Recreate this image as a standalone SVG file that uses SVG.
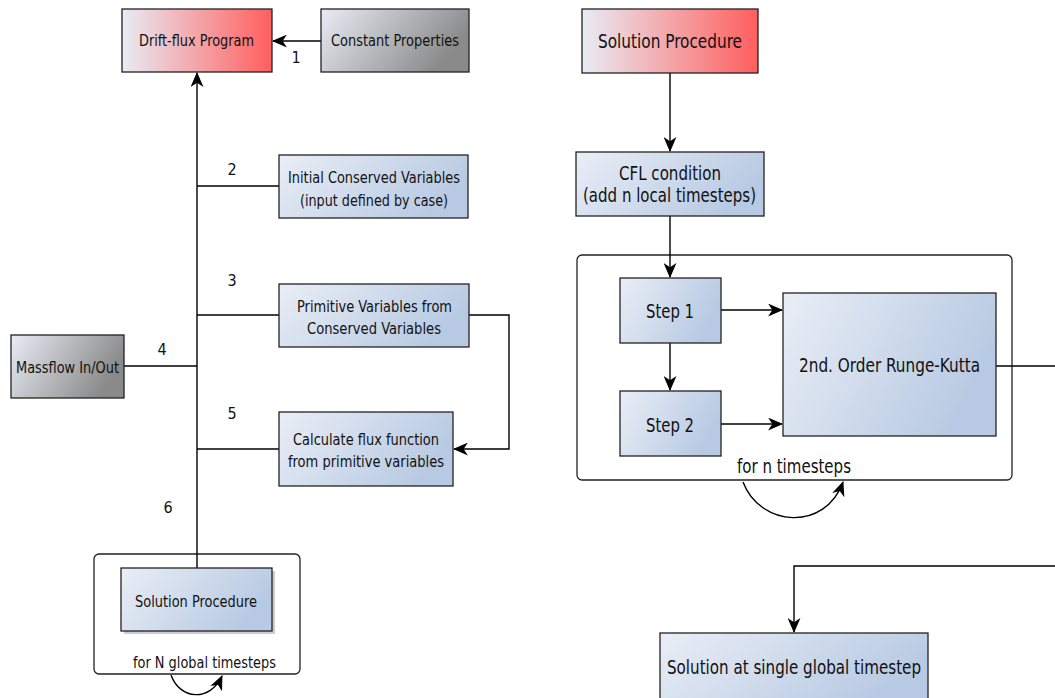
<svg xmlns="http://www.w3.org/2000/svg" width="1055" height="698" viewBox="0 0 1055 698">
<defs>
<linearGradient id="gBlue" x1="0" y1="0" x2="1" y2="0.35"><stop offset="0" stop-color="#eaeef6"/><stop offset="1" stop-color="#b8cae3"/></linearGradient>
<linearGradient id="gRed" x1="0" y1="0" x2="1" y2="0"><stop offset="0" stop-color="#e8ecf4"/><stop offset="1" stop-color="#ff5e5e"/></linearGradient>
<linearGradient id="gGray" x1="0" y1="0" x2="1" y2="0.35"><stop offset="0" stop-color="#e8ecf4"/><stop offset="1" stop-color="#8a8a8a"/></linearGradient>
<marker id="arr" viewBox="0 0 14 12" refX="13" refY="6" markerWidth="15" markerHeight="13" markerUnits="userSpaceOnUse" orient="auto"><path d="M0,0 L14,6 L0,12 L4,6 Z" fill="#000"/></marker>
</defs>
<style>
.box{stroke:#222;stroke-width:1.3}
.blue{fill:url(#gBlue)}
.red{fill:url(#gRed)}
.gray{fill:url(#gGray)}
.frame{fill:#fff;stroke:#222;stroke-width:1.3}
.shadow{fill:#999;opacity:0.5}
text{font-family:"DejaVu Sans Condensed","DejaVu Sans",sans-serif;font-stretch:condensed;font-size:16.5px;fill:#111;text-anchor:middle}
.big{font-size:19px}
.num{font-size:16px}
.conn{fill:none;stroke:#000;stroke-width:1.4}
</style>
<rect width="1055" height="698" fill="#fff"/>

<g id="frame-global"><rect class="frame" x="94" y="554" width="206" height="120" rx="5"/><text x="204.5" y="668" textLength="143" lengthAdjust="spacingAndGlyphs">for N global timesteps</text></g>
<g id="frame-local"><rect class="frame" x="577" y="255" width="435" height="225" rx="5"/><text class="big" x="794" y="473" textLength="114" lengthAdjust="spacingAndGlyphs">for n timesteps</text></g>

<g id="connectors">
<path class="conn" d="M321,41 H273" marker-end="url(#arr)"/>
<path class="conn" d="M197,568 V73" marker-end="url(#arr)"/>
<path class="conn" d="M197,186 H279"/>
<path class="conn" d="M197,315 H279"/>
<path class="conn" d="M124,366 H197"/>
<path class="conn" d="M197,449 H279"/>
<path class="conn" d="M469,315 H509 V449 H454" marker-end="url(#arr)"/>
<path class="conn" d="M171,675 C180,700 210,702 222,676" marker-end="url(#arr)"/>
<path class="conn" d="M670,73 V151" marker-end="url(#arr)"/>
<path class="conn" d="M670,216 V277" marker-end="url(#arr)"/>
<path class="conn" d="M670,343 V390" marker-end="url(#arr)"/>
<path class="conn" d="M721,310 H782" marker-end="url(#arr)"/>
<path class="conn" d="M721,424 H782" marker-end="url(#arr)"/>
<path class="conn" d="M996,366 H1055"/>
<path class="conn" d="M743,482 C760,527 825,532 843,482" marker-end="url(#arr)"/>
<path class="conn" d="M1055,566 H794 V632" marker-end="url(#arr)"/>
</g>

<g id="n-drift"><rect class="box red" x="122" y="9" width="150" height="63"/><text x="196.5" y="46" textLength="115" lengthAdjust="spacingAndGlyphs">Drift-flux Program</text></g>
<g id="n-const"><rect class="box gray" x="321" y="9" width="148" height="63"/><text x="395" y="46" textLength="128" lengthAdjust="spacingAndGlyphs">Constant Properties</text></g>
<text class="num" x="296" y="63">1</text>
<g id="n-init"><rect class="box blue" x="279" y="155" width="189" height="63"/><text x="374" y="183" textLength="172" lengthAdjust="spacingAndGlyphs">Initial Conserved Variables</text><text x="374" y="206" textLength="148" lengthAdjust="spacingAndGlyphs">(input defined by case)</text></g>
<text class="num" x="232" y="175">2</text>
<g id="n-prim"><rect class="box blue" x="279" y="284" width="190" height="63"/><text x="374.5" y="312" textLength="155" lengthAdjust="spacingAndGlyphs">Primitive Variables from</text><text x="374" y="334" textLength="134" lengthAdjust="spacingAndGlyphs">Conserved Variables</text></g>
<text class="num" x="232" y="286">3</text>
<g id="n-mass"><rect class="box gray" x="11" y="335" width="113" height="63"/><text x="67.5" y="373" textLength="103" lengthAdjust="spacingAndGlyphs">Massflow In/Out</text></g>
<text class="num" x="162" y="355">4</text>
<g id="n-flux"><rect class="box blue" x="279" y="412" width="174" height="74"/><text x="366" y="445" textLength="146" lengthAdjust="spacingAndGlyphs">Calculate flux function</text><text x="366" y="467" textLength="156" lengthAdjust="spacingAndGlyphs">from primitive variables</text></g>
<text class="num" x="232" y="419">5</text>
<text class="num" x="168" y="513">6</text>
<g id="n-sol-inner"><rect class="shadow" x="124" y="571" width="151" height="63"/><rect class="box blue" x="121" y="568" width="151" height="63"/><text x="196" y="607" textLength="122" lengthAdjust="spacingAndGlyphs">Solution Procedure</text></g>

<g id="n-sol-red"><rect class="box red" x="582" y="9" width="176" height="64"/><text class="big" x="670" y="48" textLength="144" lengthAdjust="spacingAndGlyphs">Solution Procedure</text></g>
<g id="n-cfl"><rect class="box blue" x="576" y="152" width="188" height="64"/><text class="big" x="670" y="180" textLength="102" lengthAdjust="spacingAndGlyphs">CFL condition</text><text class="big" x="669.5" y="202" textLength="173" lengthAdjust="spacingAndGlyphs">(add n local timesteps)</text></g>
<g id="n-step1"><rect class="box blue" x="620" y="278" width="101" height="65"/><text class="big" x="670" y="318" textLength="48" lengthAdjust="spacingAndGlyphs">Step 1</text></g>
<g id="n-step2"><rect class="box blue" x="620" y="391" width="101" height="65"/><text class="big" x="670" y="432" textLength="48" lengthAdjust="spacingAndGlyphs">Step 2</text></g>
<g id="n-rk"><rect class="box blue" x="783" y="293" width="213" height="143"/><text class="big" x="889.5" y="372" textLength="181" lengthAdjust="spacingAndGlyphs">2nd. Order Runge-Kutta</text></g>
<g id="n-single"><rect class="box blue" x="660" y="633" width="268" height="70"/><text class="big" x="794" y="674" textLength="254" lengthAdjust="spacingAndGlyphs">Solution at single global timestep</text></g>
</svg>
